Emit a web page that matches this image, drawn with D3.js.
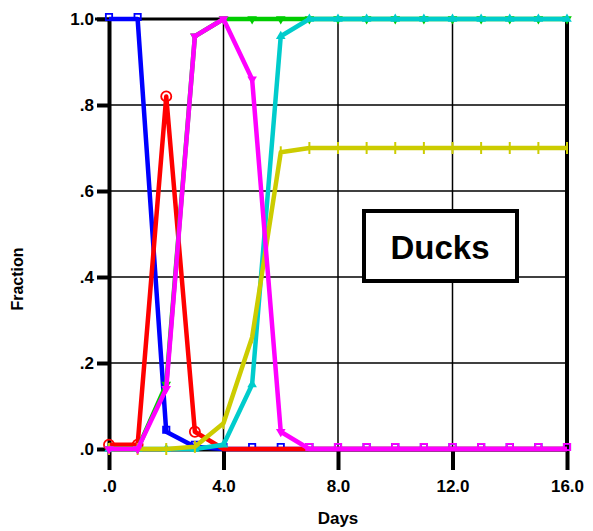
<!DOCTYPE html>
<html><head><meta charset="utf-8">
<script src="https://cdn.jsdelivr.net/npm/d3@7"></script>
<style>body{margin:0;background:#fff}svg{display:block}text{font-family:"Liberation Sans",Arial,sans-serif;font-weight:bold}</style>
</head><body>
<svg id="c" width="593" height="531"></svg>
<script>
const days = [0,1,2,3,4,5,6,7,8,9,10,11,12,13,14,15,16];
const blue    = [1,1,0.04,0.005,0,0,0,0,0,0,0,0,0,0,0,0,0];
const red     = [0.01,0.01,0.82,0.04,0,0,0,0,0,0,0,0,0,0,0,0,0];
const green   = [0,0,0.15,0.96,1,1,1,1,1,1,1,1,1,1,1,1,1];
const cyan    = [0,0,0,0,0.01,0.15,0.96,1,1,1,1,1,1,1,1,1,1];
const yellow  = [0,0,0,0.005,0.06,0.26,0.69,0.70,0.70,0.70,0.70,0.70,0.70,0.70,0.70,0.70,0.70];
const magenta = [0,0,0.14,0.96,1,0.86,0.04,0,0,0,0,0,0,0,0,0,0];
const redMarks = ["circle","circle","circle","circle",null,null,null,null,null,null,null,null,null,null,null,null,null];
const magentaMarks = ["tri-down","tri-down","tri-down","tri-down","tri-down","tri-down","tri-down","square","square","square","square","square","square","square","square","square","square"];
const xTicks = [0,4,8,12,16];
const xTickLabels = [".0","4.0","8.0","12.0","16.0"];
const yTicks = [0,0.2,0.4,0.6,0.8,1.0];
const yTickLabels = [".0",".2",".4",".6",".8","1.0"];
const title = "Ducks";

const series = [
  {vals: blue, color: "#0000ff", mark: "square"},
  {vals: red, color: "#ff0000", mark: redMarks},
  {vals: green, color: "#00cc00", mark: "tri-down"},
  {vals: cyan, color: "#00cccc", mark: "tri-up"},
  {vals: yellow, color: "#cccc00", mark: "plus"},
  {vals: magenta, color: "#ff00ff", mark: magentaMarks}
];

const svg = d3.select("#c");
const x = d3.scaleLinear().domain([0,16]).range([109,567]);
const y = d3.scaleLinear().domain([0,1]).range([449,19]);

// grid
const g = svg.append("g");
g.selectAll(".gx").data(xTicks.slice(1,-1)).enter().append("line")
  .attr("x1",d=>x(d)).attr("x2",d=>x(d)).attr("y1",y(1)).attr("y2",y(0))
  .attr("stroke","#000").attr("stroke-width",1.5);
g.selectAll(".gy").data(yTicks.slice(1,-1)).enter().append("line")
  .attr("x1",x(0)).attr("x2",x(16)).attr("y1",d=>y(d)).attr("y2",d=>y(d))
  .attr("stroke","#000").attr("stroke-width",1.5);

// top and right border
svg.append("line").attr("x1",x(0)-14).attr("x2",x(16)+2).attr("y1",y(1)).attr("y2",y(1)).attr("stroke","#000").attr("stroke-width",3);
svg.append("line").attr("x1",x(16)).attr("x2",x(16)).attr("y1",y(1)).attr("y2",y(0)).attr("stroke","#000").attr("stroke-width",4);

// axes
const xAxis = d3.axisBottom(x).tickValues(xTicks).tickFormat((d,i)=>xTickLabels[i]).tickSize(21).tickPadding(10).tickSizeOuter(0);
const yAxis = d3.axisLeft(y).tickValues(yTicks).tickFormat((d,i)=>yTickLabels[i]).tickSize(12).tickPadding(3).tickSizeOuter(0);
const gx = svg.append("g").attr("transform",`translate(0,${y(0)})`).call(xAxis);
const gy = svg.append("g").attr("transform",`translate(${x(0)},0)`).call(yAxis);
[gx,gy].forEach(a=>{
  a.select(".domain").attr("stroke","#000").attr("stroke-width",4);
  a.selectAll(".tick line").attr("stroke","#000").attr("stroke-width",4);
  a.selectAll(".tick text").attr("fill","#000").style("font-size","17px").style("font-family","'Liberation Sans',Arial,sans-serif").style("font-weight","bold");
});
gy.selectAll(".tick text").attr("dy","0.35em");

// lines
const line = d3.line().x((d,i)=>x(days[i])).y(d=>y(d));
const sym = {
  "square": d3.symbol().type(d3.symbolSquare).size(40),
  "circle": d3.symbol().type(d3.symbolCircle).size(80),
  "tri-up": d3.symbol().type(d3.symbolTriangle).size(40),
  "tri-down": d3.symbol().type(d3.symbolTriangle).size(40)
};
series.forEach(s=>{
  svg.append("path").attr("d",line(s.vals)).attr("fill","none").attr("stroke",s.color).attr("stroke-width",4.5).attr("stroke-linejoin","round");
  const gm = svg.append("g");
  s.vals.forEach((v,i)=>{
    const m = Array.isArray(s.mark) ? s.mark[i] : s.mark;
    if (!m) return;
    const cx = x(days[i]), cy = y(v);
    if (m==="plus") {
      gm.append("line").attr("x1",cx).attr("x2",cx).attr("y1",cy-6).attr("y2",cy+6).attr("stroke",s.color).attr("stroke-width",2);
      return;
    }
    const p = gm.append("path").attr("d",sym[m]());
    if (m==="square") {
      p.attr("transform",`translate(${cx},${cy-2})`).attr("fill","none").attr("stroke",s.color).attr("stroke-width",1.8);
    } else if (m==="circle") {
      p.attr("transform",`translate(${cx},${cy})`).attr("fill","none").attr("stroke",s.color).attr("stroke-width",1.8);
    } else if (m==="tri-down") {
      p.attr("transform",`translate(${cx},${cy}) rotate(180)`).attr("fill",s.color);
    } else {
      p.attr("transform",`translate(${cx},${cy})`).attr("fill",s.color);
    }
  });
});

// label box
const bx = svg.append("g");
bx.append("rect").attr("x",364).attr("y",211).attr("width",153).attr("height",70).attr("fill","#fff").attr("stroke","#000").attr("stroke-width",4);
bx.append("text").attr("x",440).attr("y",259).attr("text-anchor","middle").style("font-size","33px").text(title);

// axis titles
svg.append("text").attr("x",x(8)).attr("y",524).attr("text-anchor","middle").style("font-size","17px").text("Days");
svg.append("text").attr("transform",`translate(23,${y(0.4)+2}) rotate(-90)`).attr("text-anchor","middle").style("font-size","16px").text("Fraction");
</script>
</body></html>
